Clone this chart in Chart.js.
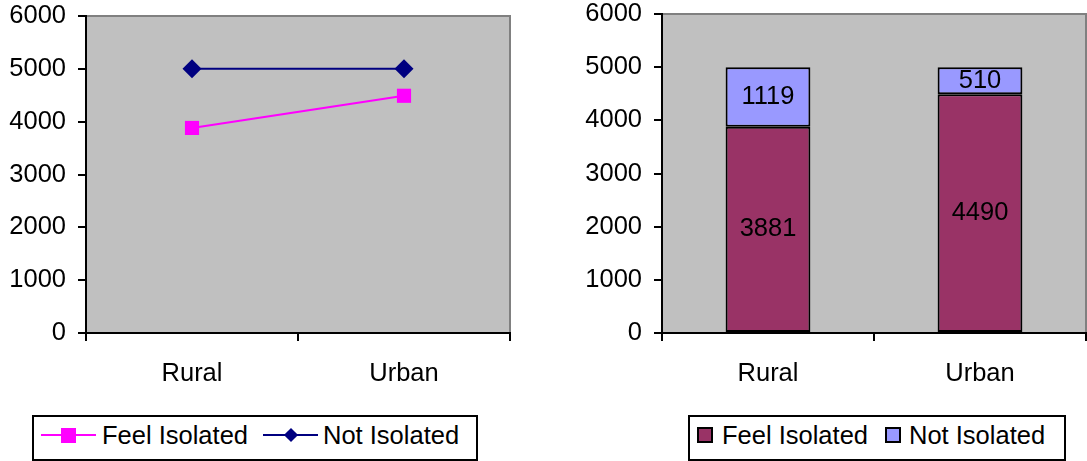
<!DOCTYPE html>
<html lang="en">
<head>
<meta charset="UTF-8" />
<title>Feel Isolated / Not Isolated — Rural vs Urban</title>
<script src="https://cdn.jsdelivr.net/npm/chart.js@4.4.0/dist/chart.umd.min.js"></script>
<style>
  *, *::before, *::after { box-sizing: border-box; margin: 0; padding: 0; }
  body {
    width: 1087px; height: 461px; background: #fff; position: relative; overflow: hidden;
    font-family: 'Liberation Sans', Arial, sans-serif; color: #000;
  }
  canvas { position: absolute; top: 0; }
  #lineChart { left: 0; }
  #barChart  { left: 560px; }

  /* legends (boxed, Excel style) */
  .legend {
    position: absolute; top: 415px; height: 46px;
    border: 2px solid #000; background: #fff;
  }
  #lineLegend { left: 32px; width: 446px; }
  #barLegend  { left: 688px; width: 378px; }
  .legend span.txt {
    position: absolute; top: 3px; line-height: 30px; font-size: 25.5px; white-space: nowrap;
  }
  .sample { position: absolute; top: 17px; width: 55px; height: 2px; }
  .sample i { position: absolute; display: block; }
  .sq i  { width: 15px; height: 15px; left: 20px; top: -6.5px; }
  .dia i { width: 10px; height: 10px; left: 22.5px; top: -4px; transform: rotate(45deg); }
  .swatch {
    position: absolute; top: 10px; width: 16px; height: 16px; border: 2px solid #000;
  }
</style>
</head>
<body>

<canvas id="lineChart" width="540" height="400"></canvas>
<canvas id="barChart" width="527" height="400"></canvas>

<div class="legend" id="lineLegend">
  <div class="sample sq" style="left:7px;background:#ff00ff"><i style="background:#ff00ff"></i></div>
  <span class="txt" style="left:68px">Feel Isolated</span>
  <div class="sample dia" style="left:229px;background:#000080"><i style="background:#000080"></i></div>
  <span class="txt" style="left:289px">Not Isolated</span>
</div>

<div class="legend" id="barLegend">
  <div class="swatch" style="left:7px;background:#993366"></div>
  <span class="txt" style="left:32px">Feel Isolated</span>
  <div class="swatch" style="left:195px;background:#9999ff"></div>
  <span class="txt" style="left:219px">Not Isolated</span>
</div>

<script>
const categories   = ['Rural', 'Urban'];
const feelIsolated = [3881, 4490];
const notIsolated  = [1119, 510];
const yTicks       = [0, 1000, 2000, 3000, 4000, 5000, 6000];

const FONT = { family: "'Liberation Sans', Arial, sans-serif", size: 25.5, lineHeight: 1.2 };

// grey plot area, grey top/right frame
const plotArea = {
  id: 'plotArea',
  beforeDraw(chart) {
    const { ctx, chartArea: a } = chart;
    ctx.save();
    ctx.fillStyle = '#c0c0c0';
    ctx.fillRect(a.left, a.top, a.right - a.left, a.bottom - a.top);
    ctx.strokeStyle = '#808080';
    ctx.lineWidth = 2;
    ctx.beginPath();
    ctx.moveTo(a.left, a.top);
    ctx.lineTo(a.right, a.top);
    ctx.lineTo(a.right, a.bottom);
    ctx.stroke();
    ctx.restore();
  },
};

// value labels centred in each bar segment
const barLabels = {
  id: 'barLabels',
  afterDatasetsDraw(chart) {
    const { ctx } = chart;
    ctx.save();
    ctx.font = `${FONT.size}px ${FONT.family}`;
    ctx.fillStyle = '#000';
    ctx.textAlign = 'center';
    ctx.textBaseline = 'middle';
    chart.data.datasets.forEach((ds, i) => {
      chart.getDatasetMeta(i).data.forEach((bar, j) => {
        const { x, y, base } = bar.getProps(['x', 'y', 'base'], true);
        ctx.fillText(String(ds.data[j]), x, (y + base) / 2);
      });
    });
    ctx.restore();
  },
};

function scales(yWidth) {
  const axisGrid = { drawOnChartArea: false, drawTicks: true, tickLength: 8, color: '#000', lineWidth: 2 };
  return {
    x: {
      offset: true,
      stacked: true,
      grid: { ...axisGrid, offset: true },
      border: { color: '#000', width: 2 },
      ticks: { color: '#000', font: FONT, padding: 18, maxRotation: 0 },
      afterFit: s => { s.height = 67; },
    },
    y: {
      stacked: true,
      min: 0, max: 6000,
      afterBuildTicks: s => { s.ticks = yTicks.map(v => ({ value: v })); },
      grid: axisGrid,
      border: { color: '#000', width: 2 },
      ticks: { color: '#000', font: FONT, padding: 12, callback: v => String(v) },
      // keep the plot top where layout.padding puts it
      afterFit: s => { s.width = yWidth; s.paddingTop = 0; s.paddingBottom = 0; },
    },
  };
}

// Left: stacked line chart
new Chart(document.getElementById('lineChart'), {
  type: 'line',
  data: {
    labels: categories,
    datasets: [
      {
        label: 'Feel Isolated',
        data: feelIsolated,
        borderColor: '#ff00ff', backgroundColor: '#ff00ff',
        borderWidth: 2, pointStyle: 'rect', pointRadius: 10, pointBorderWidth: 0,
        fill: false,
      },
      {
        label: 'Not Isolated',
        data: notIsolated,
        borderColor: '#000080', backgroundColor: '#000080',
        borderWidth: 2, pointStyle: 'rectRot', pointRadius: 9.5, pointBorderWidth: 0,
        fill: false,
      },
    ],
  },
  options: {
    responsive: false,
    animation: false,
    layout: { padding: { top: 16, right: 30, bottom: 0, left: 0 } },
    plugins: { legend: { display: false }, tooltip: { enabled: false } },
    scales: scales(86),
  },
  plugins: [plotArea],
});

// Right: stacked column chart
new Chart(document.getElementById('barChart'), {
  type: 'bar',
  data: {
    labels: categories,
    datasets: [
      {
        label: 'Feel Isolated', data: feelIsolated,
        backgroundColor: '#993366', borderColor: '#000', borderWidth: 2,
        borderSkipped: false, categoryPercentage: 1, barPercentage: 0.4,
      },
      {
        label: 'Not Isolated', data: notIsolated,
        backgroundColor: '#9999ff', borderColor: '#000', borderWidth: 2,
        borderSkipped: false, categoryPercentage: 1, barPercentage: 0.4,
      },
    ],
  },
  options: {
    responsive: false,
    animation: false,
    layout: { padding: { top: 14, right: 1, bottom: 0, left: 0 } },
    plugins: { legend: { display: false }, tooltip: { enabled: false } },
    scales: scales(102),
  },
  plugins: [plotArea, barLabels],
});
</script>
</body>
</html>
